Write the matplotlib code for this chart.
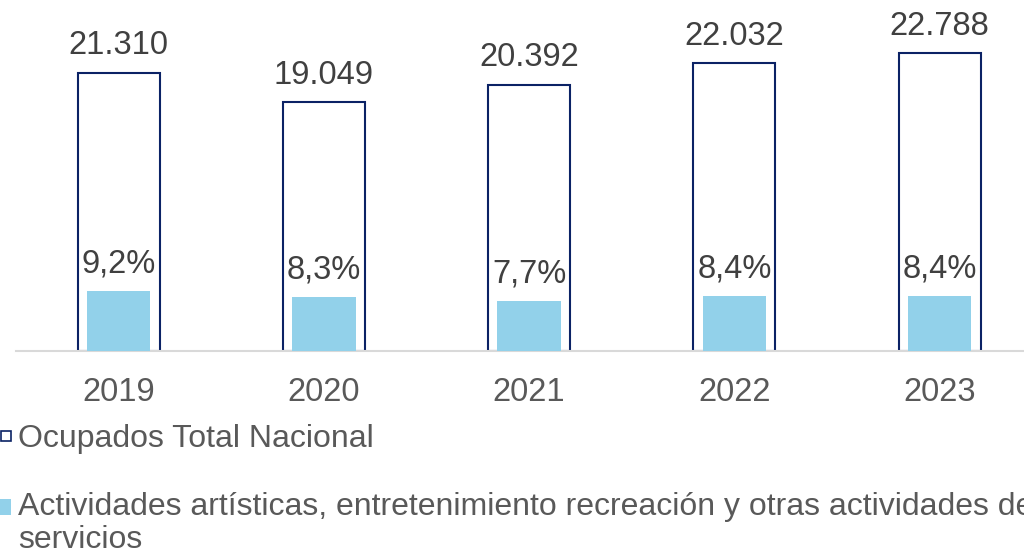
import matplotlib
matplotlib.use("Agg")
import matplotlib.pyplot as plt
from matplotlib.patches import Rectangle

plt.rcParams['font.family'] = ['Liberation Sans', 'DejaVu Sans']

years = ["2019", "2020", "2021", "2022", "2023"]
ocupados = [21310, 19049, 20392, 22032, 22788]
ocupados_labels = ["21.310", "19.049", "20.392", "22.032", "22.788"]
actividades_pct = [9.2, 8.3, 7.7, 8.4, 8.4]
actividades_labels = ["9,2%", "8,3%", "7,7%", "8,4%", "8,4%"]
legend_labels = ["Ocupados Total Nacional",
                 "Actividades artísticas, entretenimiento recreación y otras actividades de\nservicios"]

W, H = 1024, 554
fig = plt.figure(figsize=(W / 100, H / 100), dpi=100)

navy = "#0B2265"
light = "#92D1EA"
val_col = "#404040"
txt_col = "#595959"
FS = 23.5
LFS = 23.0

# axes: baseline at y=351 px, category band from x=16 px, 205.25 px per category
ax_left = 16 / W
ax_width = 5 * 205.25 / W
ax_bottom = (H - 351) / H
ax_height = 351 / H
ax = fig.add_axes([ax_left, ax_bottom, ax_width, ax_height])
ax2 = ax.twinx()

x = list(range(len(years)))
ax.bar(x, ocupados, width=0.40, facecolor="white", edgecolor=navy, linewidth=1.5, zorder=2)
ax2.bar(x, actividades_pct, width=0.31, color=light, edgecolor="none", zorder=3)

ax.set_xlim(-0.5, 4.5)
ax.set_ylim(0, 26880)
ax2.set_ylim(0, 54.0)

for xi, v, lab in zip(x, ocupados, ocupados_labels):
    ax.annotate(lab, (xi, v), xytext=(0, 13.3), textcoords="offset points",
                ha="center", va="baseline", fontsize=FS, color=val_col)
for xi, v, lab in zip(x, actividades_pct, actividades_labels):
    ax2.annotate(lab, (xi, v), xytext=(0, 13.3), textcoords="offset points",
                 ha="center", va="baseline", fontsize=FS, color=val_col, zorder=5)

for a in (ax, ax2):
    for s in ("top", "right", "left"):
        a.spines[s].set_visible(False)
    a.set_yticks([])
    a.patch.set_visible(False)
ax2.spines["bottom"].set_visible(False)
ax.spines["bottom"].set_color("#D9D9D9")
ax.spines["bottom"].set_linewidth(1.5)
ax.spines["bottom"].set_zorder(10)

ax.set_xticks(x)
ax.set_xticklabels(years, fontsize=FS, color=txt_col)
ax.tick_params(axis="x", length=0, pad=18.4)

# legend
fig.add_artist(Rectangle((0.5 / W, (H - 441) / H), 10.5 / W, 10.5 / H,
                         transform=fig.transFigure, facecolor="white",
                         edgecolor=navy, linewidth=1.2))
fig.add_artist(Rectangle((-5 / W, (H - 515) / H), 16 / W, 16 / H,
                         transform=fig.transFigure, facecolor=light, edgecolor="none"))
fig.text(18 / W, (H - 447) / H, legend_labels[0], fontsize=LFS, color=txt_col,
         ha="left", va="baseline")
line1, line2 = legend_labels[1].split("\n")
fig.text(18 / W, (H - 515) / H, line1, fontsize=LFS, color=txt_col,
         ha="left", va="baseline")
fig.text(18 / W, (H - 548) / H, line2, fontsize=LFS, color=txt_col,
         ha="left", va="baseline")

fig.savefig("out.png", dpi=100)
